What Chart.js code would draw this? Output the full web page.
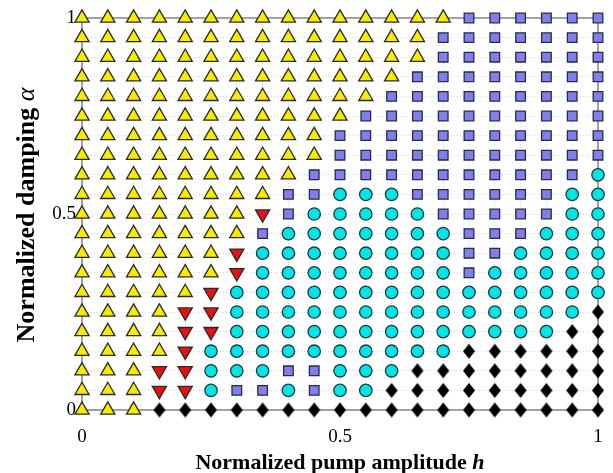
<!DOCTYPE html>
<html>
<head>
<meta charset="utf-8">
<script src="https://cdn.jsdelivr.net/npm/chart.js@4/dist/chart.umd.min.js"></script>
<style>
  html, body { margin: 0; padding: 0; background: #ffffff; }
  #wrap { width: 613px; height: 473px; }
</style>
</head>
<body>
<div id="wrap"><canvas id="phase" width="613" height="473"></canvas></div>
<script>
// Pump amplitude grid (columns) and damping grid (rows)
const hValues = [0, 0.05, 0.1, 0.15, 0.2, 0.25, 0.3, 0.35, 0.4, 0.45, 0.5,
                 0.55, 0.6, 0.65, 0.7, 0.75, 0.8, 0.85, 0.9, 0.95, 1];
const alphaValues = [1, 0.95, 0.9, 0.85, 0.8, 0.75, 0.7, 0.65, 0.6, 0.55, 0.5,
                     0.45, 0.4, 0.35, 0.3, 0.25, 0.2, 0.15, 0.1, 0.05, 0];

// Regime at each grid point, one string per damping row (alpha = 1 first),
// one letter per pump amplitude column (h = 0 first).
// T: up-triangle, V: down-triangle, S: square, C: circle, D: diamond
const phaseRows = [
  "TTTTTTTTTTTTTTTSSSSSS",
  "TTTTTTTTTTTTTTSSSSSSS",
  "TTTTTTTTTTTTTTSSSSSSS",
  "TTTTTTTTTTTTTSSSSSSSS",
  "TTTTTTTTTTTTSSSSSSSSS",
  "TTTTTTTTTTTSSSSSSSSSS",
  "TTTTTTTTTTSSSSSSSSSSS",
  "TTTTTTTTTTSSSSSSSSSSS",
  "TTTTTTTTTSSSSSSSSSSSC",
  "TTTTTTTTSSCCCSSSSSSCC",
  "TTTTTTTVSCCCCCSSSSSCC",
  "TTTTTTTSCCCCCCCSSSCCC",
  "TTTTTTVCCCCCCCCSSCCCC",
  "TTTTTTVCCCCCCCCSCCCCC",
  "TTTTTVCCCCCCCCCCCCCCC",
  "TTTTVVCCCCCCCCCCCCCCD",
  "TTTTVVCCCCCCCCCCCCCDD",
  "TTTTVCCCCCCCCCCDDDDDD",
  "TTTVVCCCSSCCCDDDDDDDD",
  "TTTVVCSSCSCCDDDDDDDDD",
  "TTTDDDDDDDDDDDDDDDDDD"
];

const xTickLabels = ["0", "0.5", "1"];
const yTickLabels = ["0", "0.5", "1"];
const labeledTicks = [0, 0.5, 1];

// Diamond marker, a little taller than wide
function makeDiamond(w, h) {
  const c = document.createElement('canvas');
  c.width = w + 2; c.height = h + 2;
  const g = c.getContext('2d');
  const cx = c.width / 2, cy = c.height / 2;
  g.beginPath();
  g.moveTo(cx, cy - h / 2);
  g.lineTo(cx + w / 2, cy);
  g.lineTo(cx, cy + h / 2);
  g.lineTo(cx - w / 2, cy);
  g.closePath();
  g.fillStyle = '#000000';
  g.fill();
  return c;
}

const markerStyles = {
  T: { pointStyle: 'triangle', radius: 8.2, rotation: 0,   bg: '#f7ec00', border: '#2a2a2a', bw: 1.3 },
  V: { pointStyle: 'triangle', radius: 8.2, rotation: 180, bg: '#e81010', border: '#2a2a2a', bw: 1.3 },
  S: { pointStyle: 'rect',     radius: 6.8, rotation: 0,   bg: '#7f7ff0', border: '#2a2a40', bw: 1.3 },
  C: { pointStyle: 'circle',   radius: 6.2, rotation: 0,   bg: '#00e5e8', border: '#1f3a3a', bw: 1.3 },
  D: { pointStyle: makeDiamond(12, 15), radius: 7, rotation: 0, bg: '#000000', border: '#000000', bw: 0 }
};
const phaseOrder = ['T', 'V', 'S', 'C', 'D'];

const datasets = phaseOrder.map(code => {
  const pts = [];
  phaseRows.forEach((row, r) => {
    for (let c = 0; c < row.length; c++) {
      if (row[c] === code) pts.push({ x: hValues[c], y: alphaValues[r] });
    }
  });
  const st = markerStyles[code];
  return {
    label: code,
    data: pts,
    pointStyle: st.pointStyle,
    pointRadius: st.radius,
    pointHoverRadius: st.radius,
    pointRotation: st.rotation,
    backgroundColor: st.bg,
    borderColor: st.border,
    borderWidth: st.bw,
    clip: false
  };
});

function nearLabel(v, labels) {
  for (let i = 0; i < labeledTicks.length; i++) {
    if (Math.abs(v - labeledTicks[i]) < 1e-6) return labels[i];
  }
  return '';
}

// Plot frame drawn under the markers
const framePlugin = {
  id: 'frame',
  beforeDatasetsDraw(chart) {
    const { ctx, chartArea: a } = chart;
    ctx.save();
    ctx.strokeStyle = '#a2a2a2';
    ctx.lineWidth = 2;
    ctx.strokeRect(a.left, a.top, a.right - a.left, a.bottom - a.top);
    ctx.restore();
  }
};

// Axis titles with italic symbols
const titlePlugin = {
  id: 'axisTitles',
  afterDraw(chart) {
    const { ctx, chartArea: a } = chart;
    const family = '"Liberation Serif", "Times New Roman", serif';
    ctx.save();
    ctx.fillStyle = '#000000';
    ctx.textBaseline = 'middle';
    ctx.textAlign = 'left';

    // horizontal title
    let up = 'bold 22px ' + family, it = 'italic bold 22px ' + family;
    let p1 = 'Normalized pump amplitude ', p2 = 'h';
    ctx.font = up; const w1 = ctx.measureText(p1).width;
    ctx.font = it; const w2 = ctx.measureText(p2).width;
    let x0 = (a.left + a.right) / 2 - (w1 + w2) / 2;
    const yx = 463;
    ctx.font = up; ctx.fillText(p1, x0, yx);
    ctx.font = it; ctx.fillText(p2, x0 + w1, yx);

    // vertical title
    up = 'bold 26px ' + family; it = 'italic 26px ' + family;
    p1 = 'Normalized damping '; p2 = '\u03B1';
    ctx.font = up; const v1 = ctx.measureText(p1).width;
    ctx.font = it; const v2 = ctx.measureText(p2).width;
    ctx.translate(27, (a.top + a.bottom) / 2 + 1);
    ctx.rotate(-Math.PI / 2);
    x0 = -(v1 + v2) / 2;
    ctx.font = up; ctx.fillText(p1, x0, 0);
    ctx.font = it; ctx.fillText(p2, x0 + v1, 0);
    ctx.restore();
  }
};

const tickFont = { family: '"Liberation Serif", "Times New Roman", serif', size: 19 };
const gridOpts = { color: '#d8d8d8', lineWidth: 1, drawTicks: false };

new Chart(document.getElementById('phase'), {
  type: 'scatter',
  data: { datasets },
  options: {
    responsive: false,
    devicePixelRatio: 1,
    animation: false,
    events: [],
    layout: { padding: { top: 18, right: 15, left: 0, bottom: 0 } },
    plugins: { legend: { display: false }, tooltip: { enabled: false } },
    scales: {
      x: {
        type: 'linear', min: 0, max: 1,
        grid: gridOpts,
        border: { display: false, dash: [1, 2] },
        ticks: {
          stepSize: 0.05, autoSkip: false, maxRotation: 0, padding: 16,
          color: '#000000', font: tickFont,
          callback: v => nearLabel(v, xTickLabels)
        },
        afterFit(scale) {
          scale.height = 63;
          scale.paddingLeft = 0;
          scale.paddingRight = 0;
        }
      },
      y: {
        type: 'linear', min: 0, max: 1,
        grid: gridOpts,
        border: { display: false, dash: [1, 2] },
        ticks: {
          stepSize: 0.05, autoSkip: false, padding: 6,
          color: '#000000', font: tickFont,
          callback: v => nearLabel(v, yTickLabels)
        },
        afterFit(scale) {
          scale.width = 82;
          scale.paddingTop = 0;
          scale.paddingBottom = 0;
        }
      }
    }
  },
  plugins: [framePlugin, titlePlugin]
});
</script>
</body>
</html>
